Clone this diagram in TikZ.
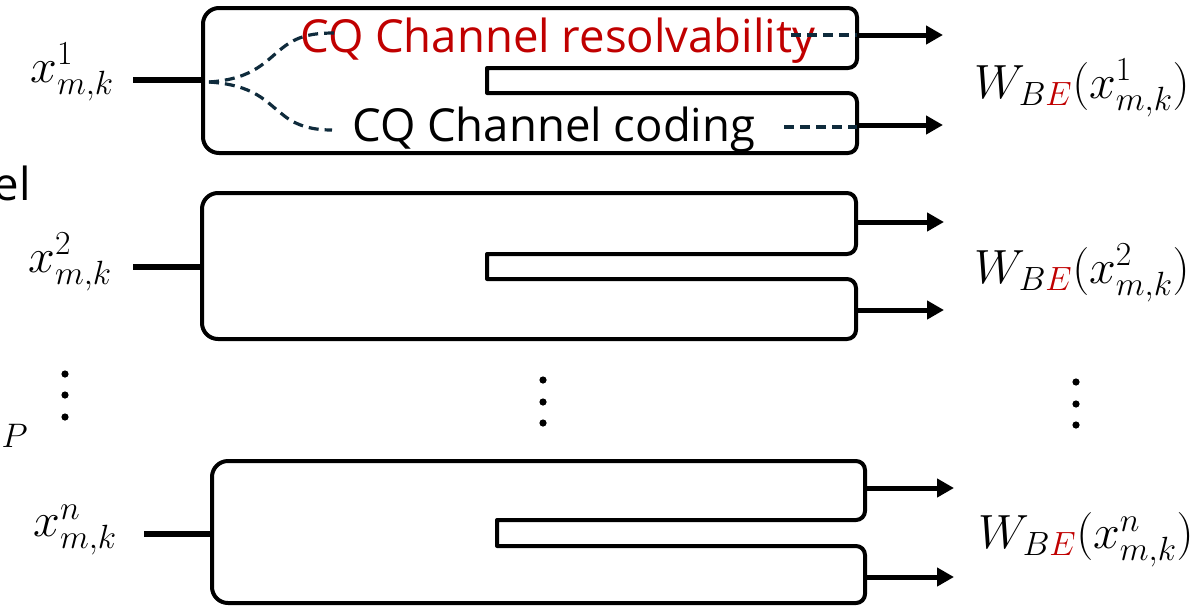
\RequirePackage{fix-cm}
\documentclass[tikz,border=0pt]{standalone}
\usepackage{fontspec}
\setmainfont{Open Sans}
\usetikzlibrary{arrows.meta}
\definecolor{cqred}{HTML}{C00000}
\definecolor{dashc}{HTML}{0F2B3C}
\tikzset{
  forkline/.style={line width=4pt, line join=round},
  inline/.style={line width=6.5pt},
  outarrow/.style={line width=5pt, -{Triangle[length=17pt,width=18pt]}},
  dashcurve/.style={dashc, line width=3.2pt, dash pattern=on 10pt off 6pt},
  lbl/.style={font=\fontsize{45.5}{54}\selectfont, inner sep=0pt},
  mlbl/.style={font=\fontsize{48}{56}\selectfont, inner sep=0pt},
  smlbl/.style={font=\fontsize{34}{40}\selectfont, inner sep=0pt},
  dotc/.style={fill=black}
}
% #1 x0, #2 top, #3 right, #4 bottom, #5 notch x, #6 notch top, #7 notch bottom
\newcommand{\forkbox}[7]{%
  \draw[forkline] (#1,{#2+16}) arc[start angle=180,end angle=270,radius=16]
    -- ({#3-9},#2) arc[start angle=270,end angle=360,radius=9]
    -- (#3,{#6-9}) arc[start angle=0,end angle=90,radius=9]
    -- (#5,#6) -- (#5,#7)
    -- ({#3-9},#7) arc[start angle=270,end angle=360,radius=9]
    -- (#3,{#4-9}) arc[start angle=0,end angle=90,radius=9]
    -- ({#1+16},#4) arc[start angle=90,end angle=180,radius=16]
    -- cycle;}
\begin{document}
\begin{tikzpicture}[x=1pt,y=-1pt]
\useasboundingbox (0,0) rectangle (1204,606);

% boxes
\forkbox{203}{8}{857}{153}{487}{68}{93}
\forkbox{202}{193}{856}{339}{487}{254}{279}
\forkbox{212}{461}{865}{603}{497}{520}{546}

% box ports
\coordinate (b1in) at (203,80);
\coordinate (b2in) at (202,267);
\coordinate (b3in) at (212,534);
\coordinate (b1o1) at (857,35);
\coordinate (b1o2) at (857,125);
\coordinate (b2o1) at (856,222);
\coordinate (b2o2) at (856,310);
\coordinate (b3o1) at (865,488);
\coordinate (b3o2) at (865,577);
\coordinate (t1o1) at (943,35);
\coordinate (t1o2) at (943,125);
\coordinate (t2o1) at (944,222);
\coordinate (t2o2) at (944,310);
\coordinate (t3o1) at (954,488);
\coordinate (t3o2) at (954,577);
\coordinate (s1) at (133,80);
\coordinate (s2) at (133,267);
\coordinate (s3) at (144,534);

% left labels
\node[mlbl] (x1) at (72,72) {$x_{m,k}^{1}$};
\node[mlbl] (x2) at (70,262) {$x_{m,k}^{2}$};
\node[mlbl] (x3) at (75,530) {$x_{m,k}^{n}$};

% right labels
\node[mlbl] (w1) at (1082,88) {$W_{B{\color{cqred}E}}(x_{m,k}^{1})$};
\node[mlbl] (w2) at (1082,273) {$W_{B{\color{cqred}E}}(x_{m,k}^{2})$};
\node[mlbl] (w3) at (1086,540) {$W_{B{\color{cqred}E}}(x_{m,k}^{n})$};

% inputs
\draw[inline] (s1) -- (b1in);
\draw[inline] (s2) -- (b2in);
\draw[inline] (s3) -- (b3in);

% outputs
\draw[outarrow] (b1o1) -- (t1o1);
\draw[outarrow] (b1o2) -- (t1o2);
\draw[outarrow] (b2o1) -- (t2o1);
\draw[outarrow] (b2o2) -- (t2o2);
\draw[outarrow] (b3o1) -- (t3o1);
\draw[outarrow] (b3o2) -- (t3o2);

% texts inside box 1
\node[lbl, text=cqred, anchor=base west] (res) at (300,52) {CQ Channel resolvability};
\node[lbl, anchor=base west] (cod) at (352,141) {CQ Channel coding};

% dashed split
\coordinate (split) at (209,82);
\coordinate (up) at (335,33);
\coordinate (dn) at (332,130);
\draw[dashcurve] (split) .. controls (255,79) and (266,60) .. (285,46)
   .. controls (300,35) and (315,33) .. (up);
\draw[dashcurve] (split) .. controls (255,85) and (266,102) .. (282,114)
   .. controls (297,127) and (315,130) .. (dn);
\coordinate (r1a) at (791,35);
\coordinate (r2a) at (784,127);
\draw[dashcurve] (r1a) -- (b1o1);
\draw[dashcurve] (r2a) -- (b1o2 |- r2a);

% partial texts at left edge
\node[lbl, anchor=base east] (el) at (31,200) {el};
\node[smlbl, anchor=base east] (pp) at (28,447) {$P$};

% dots
\foreach \y in {374,395,417} \fill[dotc] (65,\y) circle (3.6);
\foreach \y in {380,402,423} \fill[dotc] (543,\y) circle (3.6);
\foreach \y in {382,404,425} \fill[dotc] (1076,\y) circle (3.6);
\end{tikzpicture}
\end{document}
